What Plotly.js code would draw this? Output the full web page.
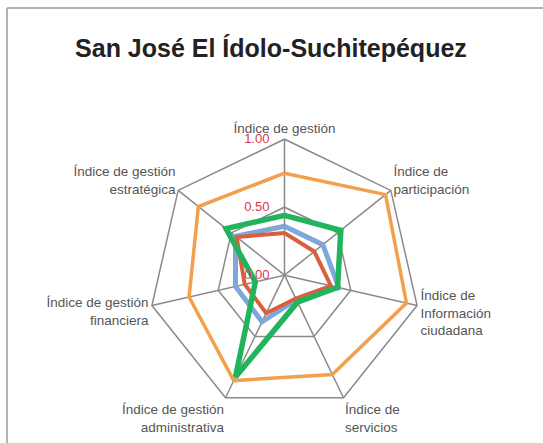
<!DOCTYPE html>
<html>
<head>
<meta charset="utf-8">
<script src="https://cdn.plot.ly/plotly-3.0.1.min.js"></script>
<style>
  html, body { margin: 0; padding: 0; background: #fff; }
  #chart { width: 543px; height: 443px; }
</style>
</head>
<body>
<div id="chart"></div>
<script>
// índices por eje, en el sentido de las agujas del reloj desde arriba
const categories = [
  'Índice de gestión',
  'Índice de<br>participación',
  'Índice de<br>Información<br>ciudadana',
  'Índice de<br>servicios',
  'Índice de gestión<br>administrativa',
  'Índice de gestión<br>financiera',
  'Índice de gestión<br>estratégica',
];
const serieNaranja = [0.75, 0.95, 0.92, 0.81, 0.86, 0.72, 0.81];
const serieAzul    = [0.36, 0.36, 0.41, 0.20, 0.38, 0.37, 0.46];
const serieRoja    = [0.31, 0.28, 0.35, 0.19, 0.31, 0.30, 0.45];
const serieVerde   = [0.44, 0.53, 0.40, 0.22, 0.83, 0.22, 0.55];
const radialTicks  = [0, 0.5, 1];

const FONT = '"Liberation Sans", Arial, Helvetica, sans-serif';
const GRID = '#8a8a8a';

// cierra el polígono repitiendo el primer punto
const closed = (arr) => arr.concat(arr[0]);

function trace(name, r, color, width) {
  return {
    type: 'scatterpolar', mode: 'lines', name,
    r: closed(r), theta: closed(categories),
    line: { color, width },
    hoverinfo: 'skip',
  };
}

const traces = [
  trace('Serie 1', serieNaranja, '#f2a04c', 3.5),
  trace('Serie 2', serieAzul, '#7fa7d9', 5),
  trace('Serie 3', serieRoja, '#d9603f', 4),
  trace('Serie 4', serieVerde, '#22b35d', 5.5),
];

const layout = {
  width: 543, height: 443,
  margin: { l: 0, r: 0, t: 0, b: 0 },
  paper_bgcolor: '#fff',
  showlegend: false,
  font: { family: FONT, size: 14, color: '#555' },
  title: {
    text: '<b>San José El Ídolo-Suchitepéquez</b>',
    font: { family: FONT, size: 25, color: '#222' },
    x: 0.499, xanchor: 'center', xref: 'paper',
    y: 1 - 48 / 443, yanchor: 'middle', yref: 'container',
  },
  polar: {
    domain: { x: [148.5 / 543, 420.5 / 543], y: [31.8 / 443, 303.8 / 443] },
    gridshape: 'linear',
    bgcolor: '#fff',
    angularaxis: {
      type: 'category', direction: 'clockwise', rotation: 90,
      linecolor: GRID, linewidth: 1.5, gridcolor: GRID, gridwidth: 1.5,
      ticks: '', tickfont: { family: FONT, size: 13.5, color: '#555' },
    },
    radialaxis: {
      range: [0, 1], tickvals: radialTicks, tickformat: '.2f',
      angle: 90, side: 'counterclockwise', tickangle: 90,
      showline: false, gridcolor: GRID, gridwidth: 1.5,
      ticks: 'outside', ticklen: 10, tickcolor: 'rgba(0,0,0,0)',
      tickfont: { family: FONT, size: 13, color: '#d23a4c' },
    },
  },
  shapes: [
    { type: 'line', xref: 'paper', yref: 'paper', x0: 7 / 543, x1: 7 / 543, y0: 1 - 8 / 443, y1: -0.1, line: { color: '#999', width: 1.5 } },
    { type: 'line', xref: 'paper', yref: 'paper', x0: 7 / 543, x1: 1.1, y0: 1 - 8 / 443, y1: 1 - 8 / 443, line: { color: '#999', width: 1.5 } },
  ],
};

Plotly.newPlot('chart', traces, layout, { displayModeBar: false, staticPlot: true });
</script>
</body>
</html>
